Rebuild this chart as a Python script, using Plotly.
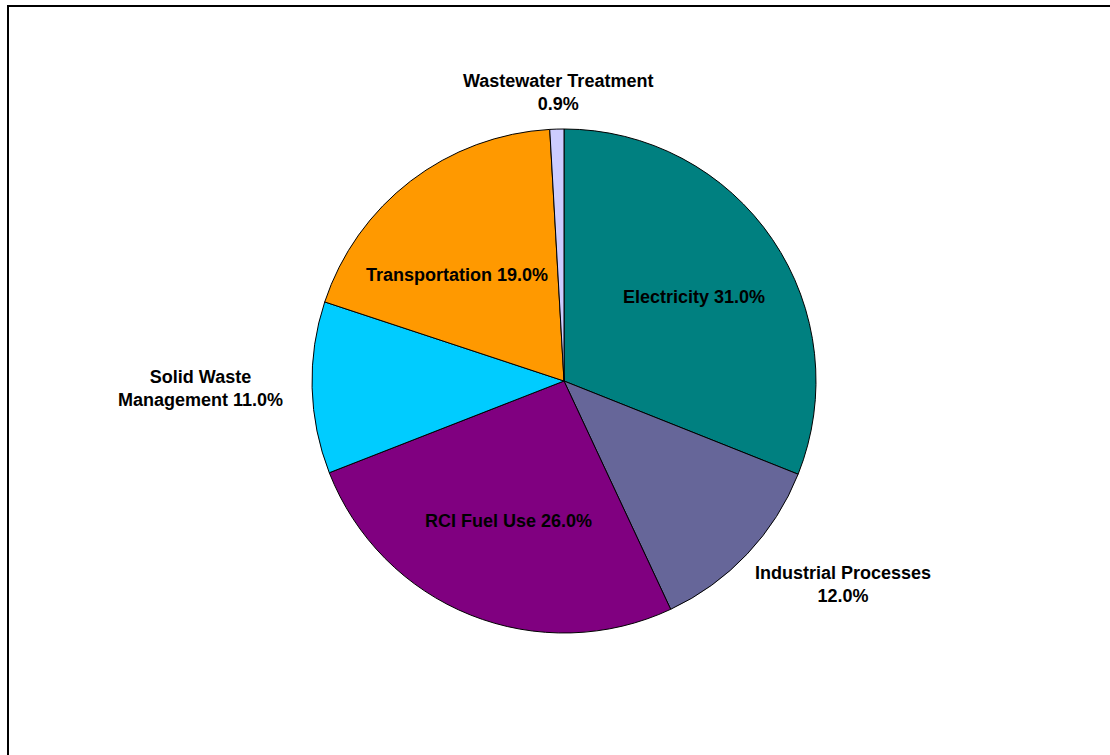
import plotly.graph_objects as go

# Emission shares by source sector (percent)
sectors = ["Electricity", "Industrial Processes", "RCI Fuel Use",
           "Solid Waste Management", "Transportation", "Wastewater Treatment"]
shares = [31.0, 12.0, 26.0, 11.0, 19.0, 0.9]
colors = ["#008080", "#666699", "#800080", "#00CCFF", "#FF9900", "#CCCCFF"]

# How each label is laid out ({n} = sector name, {v} = share)
label_formats = [
    "{n} {v:.1f}%",
    "{n}<br>{v:.1f}%",
    "{n} {v:.1f}%",
    "Solid Waste<br>Management {v:.1f}%",
    "{n} {v:.1f}%",
    "{n}<br>{v:.1f}%",
]
# Label anchor points in pixels (x, y from top)
label_pos = [(694, 297), (843, 584), (508, 521), (200, 388), (457, 275), (558, 92)]

W, H = 1110, 755
cx, cy, r = 564, 381, 252

fig = go.Figure(go.Pie(
    labels=sectors,
    values=shares,
    sort=False,
    direction="clockwise",
    rotation=0,
    marker=dict(colors=colors, line=dict(color="#000000", width=1)),
    textinfo="none",
    hoverinfo="label+percent",
    showlegend=False,
    domain=dict(x=[(cx - r) / W, (cx + r) / W],
                y=[1 - (cy + r) / H, 1 - (cy - r) / H]),
))

for name, val, fmt, (px, py) in zip(sectors, shares, label_formats, label_pos):
    fig.add_annotation(
        x=px / W, y=1 - py / H, xref="paper", yref="paper",
        text=fmt.format(n=name, v=val), showarrow=False,
        xanchor="center", yanchor="middle", align="center",
        font=dict(family="Arial, Liberation Sans, sans-serif", size=18,
                  color="#000000", weight="bold"),
    )

# Chart frame
fig.add_shape(type="rect", xref="paper", yref="paper",
              x0=8 / W, x1=1.05, y0=-0.05, y1=1 - 6 / H,
              line=dict(color="#000000", width=2), fillcolor="rgba(0,0,0,0)")

fig.update_layout(
    width=W, height=H,
    margin=dict(l=0, r=0, t=0, b=0),
    paper_bgcolor="#FFFFFF",
    plot_bgcolor="#FFFFFF",
)

fig.write_html("out.html")
